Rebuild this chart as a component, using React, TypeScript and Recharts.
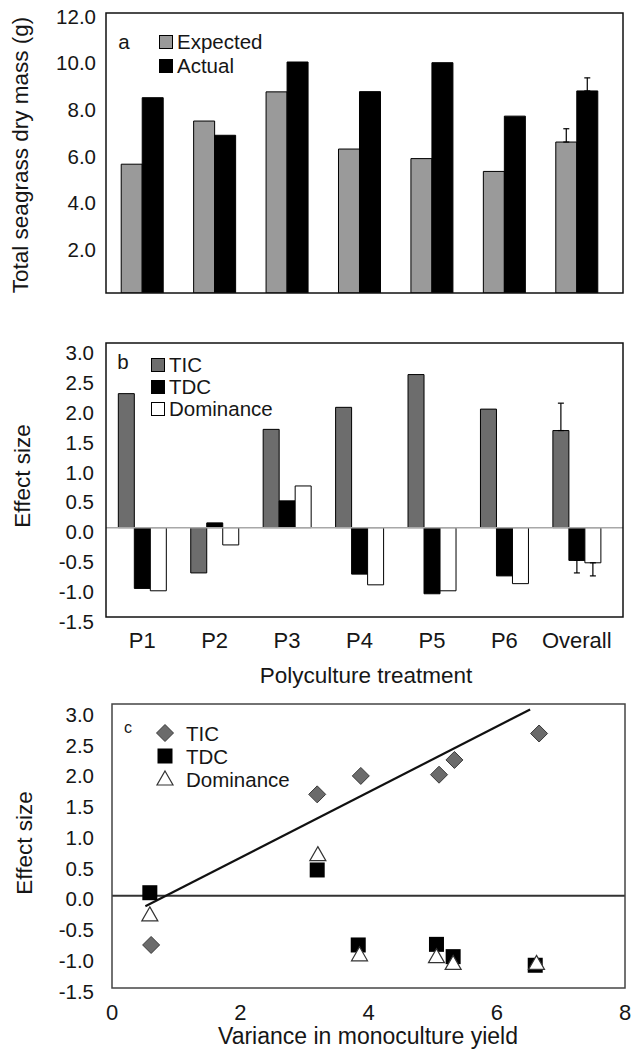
import React from "react"
import { BarChart, Bar, XAxis, YAxis, ErrorBar, ReferenceLine, ScatterChart, Scatter } from "recharts"

const FONT = '"Liberation Sans", Arial, Helvetica, sans-serif'
const INK = "#161616"

// --- panel a: seagrass mass ---
const treatments = ["P1", "P2", "P3", "P4", "P5", "P6", "Overall"]
const expectedMass = [5.52, 7.37, 8.62, 6.17, 5.76, 5.21, 6.47]
const actualMass = [8.37, 6.76, 9.9, 8.63, 9.87, 7.58, 8.66]
const expectedMassSE = [null, null, null, null, null, null, 0.57]
const actualMassSE = [null, null, null, null, null, null, 0.56]
const massTicks = [2, 4, 6, 8, 10, 12]

// --- panel b: effect sizes per treatment ---
const ticEffect = [2.25, -0.76, 1.65, 2.02, 2.57, 1.99, 1.63]
const tdcEffect = [-1.02, 0.08, 0.45, -0.78, -1.11, -0.81, -0.55]
const domEffect = [-1.06, -0.29, 0.7, -0.96, -1.06, -0.94, -0.59]
const ticSE = [null, null, null, null, null, null, 0.46]
const tdcSE = [null, null, null, null, null, null, 0.21]
const domSE = [null, null, null, null, null, null, 0.22]
const effectTicks = [-1.5, -1, -0.5, 0, 0.5, 1, 1.5, 2, 2.5, 3]

// --- panel c: effect size vs monoculture variance ---
const ticVar = [0.61, 3.2, 3.88, 5.1, 5.34, 6.66]
const ticVals = [-0.8, 1.65, 1.95, 1.97, 2.21, 2.64]
const tdcVar = [0.59, 3.2, 3.84, 5.06, 5.32, 6.6]
const tdcVals = [0.05, 0.42, -0.8, -0.79, -0.99, -1.13]
const domVar = [0.59, 3.21, 3.86, 5.06, 5.32, 6.62]
const domVals = [-0.31, 0.67, -0.96, -0.99, -1.1, -1.1]
const trendVar = [0.52, 6.52]
const trendVals = [-0.17, 3.03]
const varianceTicks = [0, 2, 4, 6, 8]

const up = (e: number | null) => (e == null ? null : [0, e])
const down = (e: number | null) => (e == null ? null : [e, 0])

const massData = treatments.map((t, i) => ({
  treatment: t,
  expected: expectedMass[i],
  actual: actualMass[i],
  expectedErr: up(expectedMassSE[i]),
  actualErr: up(actualMassSE[i]),
}))

const effectData = treatments.map((t, i) => ({
  treatment: t,
  tic: ticEffect[i],
  tdc: tdcEffect[i],
  dom: domEffect[i],
  ticErr: up(ticSE[i]),
  tdcErr: down(tdcSE[i]),
  domErr: down(domSE[i]),
}))

const ticPts = ticVar.map((x, i) => ({ x, y: ticVals[i] }))
const tdcPts = tdcVar.map((x, i) => ({ x, y: tdcVals[i] }))
const domPts = domVar.map((x, i) => ({ x, y: domVals[i] }))
const trendSeg = trendVar.map((x, i) => ({ x, y: trendVals[i] }))

const yTick = (dy: number) => (props: any) => (
  <text x={props.x} y={props.y + dy} textAnchor="end" dominantBaseline="central" fontSize={20.5} fontFamily={FONT} fill={INK}>
    {Number(props.payload.value).toFixed(1)}
  </text>
)

const xTick = (dy: number) => (props: any) => (
  <text x={props.x} y={props.y + dy} textAnchor="middle" dominantBaseline="central" fontSize={22} fontFamily={FONT} fill={INK}>
    {props.payload.value}
  </text>
)

// markers
const Diamond = ({ cx, cy }: any) => (
  <polygon points={`${cx},${cy - 8.5} ${cx + 8.5},${cy} ${cx},${cy + 8.5} ${cx - 8.5},${cy}`} fill="#6b6b6b" stroke="#3a3a3a" strokeWidth={1} />
)
const Square = ({ cx, cy }: any) => <rect x={cx - 7.5} y={cy - 7.5} width={15} height={15} fill="#000" />
const Triangle = ({ cx, cy }: any) => (
  <polygon points={`${cx},${cy - 8} ${cx + 8},${cy + 6} ${cx - 8},${cy + 6}`} fill="#fff" stroke="#333" strokeWidth={1.2} />
)

// html text helpers
function T({ x, y, size = 20.5, anchor = "middle", children }: any) {
  const tx = anchor === "middle" ? "-50%" : "0"
  return (
    <div style={{ position: "absolute", left: x, top: y, transform: `translate(${tx}, -50%)`, fontSize: size, lineHeight: 1, whiteSpace: "nowrap" }}>
      {children}
    </div>
  )
}
function VT({ x, y, size = 22.5, children }: any) {
  return (
    <div style={{ position: "absolute", left: x, top: y, transform: "translate(-50%, -50%) rotate(-90deg)", fontSize: size, lineHeight: 1, whiteSpace: "nowrap" }}>
      {children}
    </div>
  )
}
function Box({ x, y, fill }: any) {
  return <div style={{ position: "absolute", left: x, top: y - 6.5, width: 12, height: 12, background: fill, border: "1px solid #000" }} />
}
function Mark({ x, y, Shape }: any) {
  return (
    <svg style={{ position: "absolute", left: x - 10, top: y - 10 }} width={20} height={20}>
      <Shape cx={10} cy={10} />
    </svg>
  )
}

export default function App() {
  return (
    <div style={{ position: "absolute", left: 0, top: 0, width: 633, height: 1058, background: "#fff", fontFamily: FONT, color: INK, overflow: "hidden" }}>
      {/* a */}
      <div style={{ position: "absolute", left: 0, top: 0 }}>
        <BarChart width={633} height={300} data={massData} margin={{ top: 13, right: 10, bottom: 7, left: 0 }} barCategoryGap="21%" barGap={0}>
          <XAxis dataKey="treatment" height={0} tick={false} tickLine={false} axisLine={false} padding={{ left: 0, right: 10 }} />
          <YAxis domain={[0, 12]} ticks={massTicks} width={106} tickLine={false} tickSize={0} tickMargin={10} axisLine={false} tick={yTick(3)} allowDataOverflow />
          <Bar dataKey="expected" fill="#9a9a9a" stroke="#000" strokeWidth={1} isAnimationActive={false}>
            <ErrorBar dataKey="expectedErr" width={3} stroke="#000" strokeWidth={1.2} direction="y" />
          </Bar>
          <Bar dataKey="actual" fill="#000" stroke="#000" strokeWidth={1} isAnimationActive={false}>
            <ErrorBar dataKey="actualErr" width={3} stroke="#000" strokeWidth={1.2} direction="y" />
          </Bar>
        </BarChart>
      </div>
      <VT x={21} y={155}>Total seagrass dry mass (g)</VT>
      <T x={124} y={42}>a</T>
      <Box x={159} y={41} fill="#9a9a9a" />
      <T x={177} y={42} anchor="start">Expected</T>
      <Box x={159} y={65} fill="#000" />
      <T x={177} y={66} anchor="start">Actual</T>

      {/* b */}
      <div style={{ position: "absolute", left: 0, top: 330 }}>
        <BarChart width={633} height={327} data={effectData} margin={{ top: 13, right: 10, bottom: 0, left: 0 }} barCategoryGap="17%" barGap={0}>
          <XAxis dataKey="treatment" height={40} tickLine={false} tickSize={0} tickMargin={0} axisLine={false} tick={xTick(23)} padding={{ left: 0, right: 10 }} interval={0} />
          <YAxis domain={[-1.5, 3.1]} ticks={effectTicks} width={106} tickLine={false} tickSize={0} tickMargin={12} axisLine={false} tick={yTick(4)} allowDataOverflow />
          <ReferenceLine y={0} stroke="#a8a8a8" strokeWidth={1.5} />
          <Bar dataKey="tic" fill="#6d6d6d" stroke="#000" strokeWidth={1} isAnimationActive={false}>
            <ErrorBar dataKey="ticErr" width={3} stroke="#000" strokeWidth={1.2} direction="y" />
          </Bar>
          <Bar dataKey="tdc" fill="#000" stroke="#000" strokeWidth={1} isAnimationActive={false}>
            <ErrorBar dataKey="tdcErr" width={3} stroke="#000" strokeWidth={1.2} direction="y" />
          </Bar>
          <Bar dataKey="dom" fill="#fff" stroke="#000" strokeWidth={1} isAnimationActive={false}>
            <ErrorBar dataKey="domErr" width={3} stroke="#000" strokeWidth={1.2} direction="y" />
          </Bar>
        </BarChart>
      </div>
      <VT x={23} y={476}>Effect size</VT>
      <T x={366} y={676} size={22.5}>Polyculture treatment</T>
      <T x={123} y={362}>b</T>
      <Box x={151} y={364} fill="#6d6d6d" />
      <T x={169} y={365} anchor="start">TIC</T>
      <Box x={151} y={386} fill="#000" />
      <T x={169} y={387} anchor="start">TDC</T>
      <Box x={151} y={408} fill="#fff" />
      <T x={169} y={409} anchor="start">Dominance</T>

      {/* c */}
      <div style={{ position: "absolute", left: 0, top: 690 }}>
        <ScatterChart width={633} height={338} margin={{ top: 14, right: 8, bottom: 0, left: 0 }}>
          <XAxis type="number" dataKey="x" domain={[0, 8]} ticks={varianceTicks} height={40} tickLine={false} tickSize={0} tickMargin={0} axisLine={false} tick={xTick(24)} allowDataOverflow />
          <YAxis type="number" dataKey="y" domain={[-1.5, 3.12]} ticks={effectTicks} width={112} tickLine={false} tickSize={0} tickMargin={18} axisLine={false} tick={yTick(3)} allowDataOverflow />
          <ReferenceLine y={0} stroke="#333" strokeWidth={2} />
          <ReferenceLine segment={trendSeg} stroke="#111" strokeWidth={2.2} />
          <Scatter data={ticPts} shape={Diamond} isAnimationActive={false} />
          <Scatter data={tdcPts} shape={Square} isAnimationActive={false} />
          <Scatter data={domPts} shape={Triangle} isAnimationActive={false} />
        </ScatterChart>
      </div>
      <VT x={25} y={843}>Effect size</VT>
      <T x={368} y={1036} size={23}>Variance in monoculture yield</T>
      <T x={128} y={728} size={16}>c</T>
      <Mark x={165} y={733} Shape={Diamond} />
      <T x={186} y={734} anchor="start">TIC</T>
      <Mark x={165} y={756} Shape={Square} />
      <T x={186} y={757} anchor="start">TDC</T>
      <Mark x={165} y={779} Shape={Triangle} />
      <T x={186} y={780} anchor="start">Dominance</T>

      {/* panel frames */}
      <svg style={{ position: "absolute", left: 0, top: 0, pointerEvents: "none" }} width={633} height={1058}>
        <rect x={106} y={13} width={517} height={280} fill="none" stroke="#111" strokeWidth={1.5} />
        <rect x={106} y={343} width={517} height={274} fill="none" stroke="#111" strokeWidth={1.5} />
        <rect x={112} y={704} width={513} height={284} fill="none" stroke="#444" strokeWidth={1.5} />
      </svg>
    </div>
  )
}
